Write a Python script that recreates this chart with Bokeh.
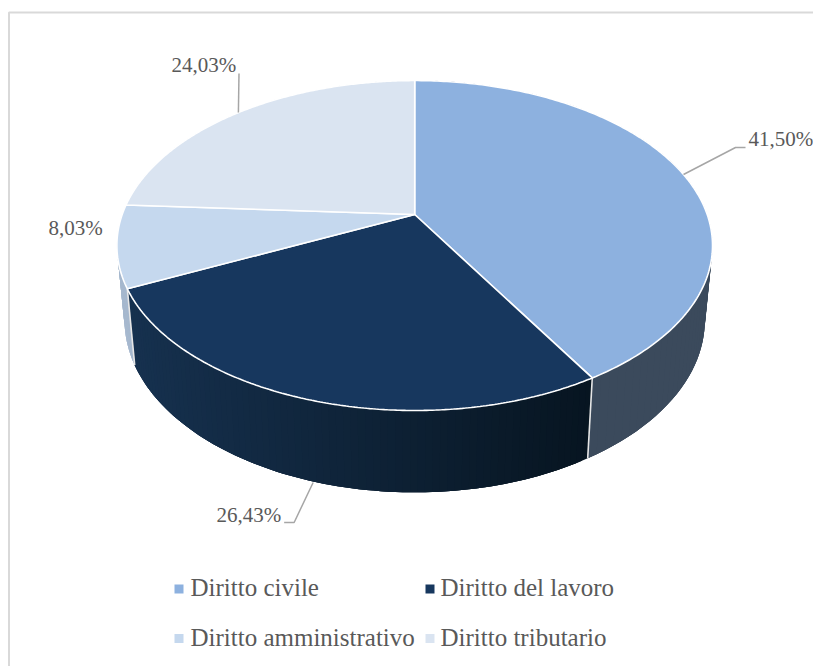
import numpy as np
from bokeh.plotting import figure
from bokeh.models import Range1d
from bokeh.embed import file_html
from bokeh.resources import INLINE
from bokeh.core.properties import value

# Data
categories = ["Diritto civile", "Diritto del lavoro", "Diritto amministrativo", "Diritto tributario"]
shares = [41.50, 26.43, 8.03, 24.03]
labels = ["41,50%", "26,43%", "8,03%", "24,03%"]

# Style
top_colors = ["#8DB1DF", "#17375E", "#C5D8EE", "#DAE4F1"]
side_left = ["#3B4A5C", "#16314F", "#A6B8CE", "#B0BCCB"]
side_right = ["#3B4A5C", "#071521", "#A6B8CE", "#B0BCCB"]
FONT = "Liberation Serif"
TEXT = "#595959"
LEADER = "#A6A6A6"
FRAME = "#D9D9D9"

# Perspective projection of the unit circle, in picture pixels
CX, K = 414.2, -0.188
TOP = dict(c=292.5, a=118.9, b=214.0)
BOT = dict(c=285.0, a=112.4, b=287.0)


def project(t, g):
    X, Y = np.sin(t), -np.cos(t)
    d = 1 + K * Y
    return CX + g["c"] * X / d, (g["a"] * Y + g["b"]) / d


p = figure(width=813, height=666, x_range=Range1d(0, 813), y_range=Range1d(666, 0),
           output_backend="svg", toolbar_location=None, min_border=0)
p.axis.visible = False
p.grid.visible = False
p.outline_line_color = None
p.background_fill_color = "#FFFFFF"

# Frame
p.line([8.5, 8.5, 813], [666, 12, 12], line_color=FRAME, line_width=2)

fractions = np.cumsum([0] + shares) / sum(shares)
angles = 2 * np.pi * fractions

# Sides: strips overlap the next one, so no seams show between them
for i in range(len(shares)):
    t = np.linspace(angles[i], angles[i + 1], 80)
    xt, yt = project(t, TOP)
    xb, yb = project(t, BOT)
    c0 = np.array([int(side_left[i][j:j + 2], 16) for j in (1, 3, 5)], float)
    c1 = np.array([int(side_right[i][j:j + 2], 16) for j in (1, 3, 5)], float)
    xs, ys, cols = [], [], []
    lo, hi = xt.min(), xt.max()
    for j in range(len(t) - 1):
        e = min(j + 4, len(t))
        f = (xt[j] - lo) / max(hi - lo, 1)
        rgb = c0 + (c1 - c0) * f
        xs.append(np.r_[xt[j:e], xb[j:e][::-1]])
        ys.append(np.r_[yt[j:e], yb[j:e][::-1]])
        cols.append("#%02X%02X%02X" % tuple(int(round(v)) for v in rgb))
    p.patches(xs, ys, fill_color=cols, line_color=None)

# Dividers between the side walls
for a in angles[1:3]:
    xt, yt = project(a, TOP)
    xb, yb = project(a, BOT)
    p.line([xt, xb], [yt, yb], line_color="#E6E6E6", line_width=1.6)

# Top faces
for i in range(len(shares)):
    t = np.linspace(angles[i], angles[i + 1], 200)
    x, y = project(t, TOP)
    p.patch(np.r_[CX, x], np.r_[TOP["b"], y], fill_color=top_colors[i],
            line_color="#FFFFFF", line_width=1.6)

# Leader lines (from each slice's mid angle)
mid = (angles[:-1] + angles[1:]) / 2
ax, ay = project(mid[0], TOP)
p.line([ax, ax + 52, ax + 62], [ay, ay - 27, ay - 27], line_color=LEADER, line_width=1.5)
ax, ay = project(mid[1], BOT)
p.line([ax, ax - 19, ax - 29], [ay + 1, ay + 41, ay + 41], line_color=LEADER, line_width=1.5)
ax, ay = project(mid[3], TOP)
p.line([ax, ax + 0.6], [ay, ay - 39], line_color=LEADER, line_width=1.5)

# Data labels
p.text([748, 216, 48, 171], [138, 514, 227, 64], text=labels,
       text_font=value(FONT), text_font_size="21px", text_color=TEXT,
       text_align="left", text_baseline="middle")

# Legend
lx, ly = [174, 425, 174, 425], [588.5, 588.5, 638, 638]
p.rect([v + 4.5 for v in lx], ly, width=9, height=9, fill_color=top_colors, line_color=None)
p.text([190, 440, 190, 440], [587, 587, 636.5, 636.5], text=categories,
       text_font=value(FONT), text_font_size="25px", text_color=TEXT,
       text_align="left", text_baseline="middle")

open("out.html", "w").write(file_html(p, INLINE))
